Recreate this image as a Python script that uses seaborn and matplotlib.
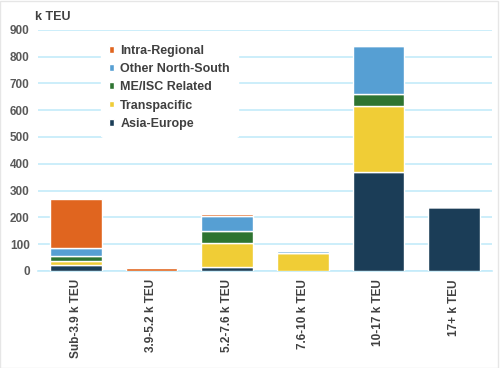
import pandas as pd
import matplotlib.pyplot as plt
import seaborn as sns

# Ship size classes and capacity by trade (k TEU)
categories = ["Sub-3.9 k TEU", "3.9-5.2 k TEU", "5.2-7.6 k TEU",
              "7.6-10 k TEU", "10-17 k TEU", "17+ k TEU"]
asia_europe = [22, 0, 14, 0, 368, 238]
transpacific = [16, 0, 90, 68, 248, 0]
me_isc = [19, 0, 46, 0, 45, 0]
other_north_south = [28, 0, 53, 6, 180, 0]
intra_regional = [183, 10, 9, 0, 0, 0]

trades = ["Asia-Europe", "Transpacific", "ME/ISC Related",
          "Other North-South", "Intra-Regional"]
colors = {"Asia-Europe": "#1b3d57", "Transpacific": "#f0cd36",
          "ME/ISC Related": "#2e7431", "Other North-South": "#569fd3",
          "Intra-Regional": "#e0651f"}

df = pd.DataFrame({"Asia-Europe": asia_europe, "Transpacific": transpacific,
                   "ME/ISC Related": me_isc, "Other North-South": other_north_south,
                   "Intra-Regional": intra_regional}, index=categories)

sns.set_style("white")
plt.rcParams['font.family'] = ['Liberation Sans', 'DejaVu Sans']

fig = plt.figure(figsize=(5.0, 3.68), dpi=100)
ax = fig.add_axes([0.076, 0.264, 0.908, 0.655])

# stack the segments bottom-up, cumulative sums give the bottoms
bottoms = df.cumsum(axis=1) - df
for trade in trades:
    sns.barplot(x=df.index, y=df[trade], bottom=bottoms[trade], color=colors[trade],
                saturation=1, width=0.68, edgecolor="white", linewidth=1.0, ax=ax,
                label=trade, zorder=3)

ax.set_ylim(0, 900)
ax.set_xlim(-0.5, 5.5)
ax.set_yticks(range(0, 901, 100))
ax.yaxis.grid(True, color="#c4ebfa", linewidth=1.2, zorder=0)
ax.set_axisbelow(True)
for s in ["top", "right", "left"]:
    ax.spines[s].set_visible(False)
ax.spines["bottom"].set_color("#c4ebfa")
ax.spines["bottom"].set_linewidth(1.2)
ax.tick_params(axis="both", length=0, pad=6)
ax.set_xlabel("")
ax.set_ylabel("")
plt.setp(ax.get_yticklabels(), fontsize=8.5, fontweight="bold", color="#595959")
plt.setp(ax.get_xticklabels(), fontsize=8.5, fontweight="bold", color="#404040",
         rotation=90)

fig.text(0.07, 0.945, "k TEU", fontsize=9, fontweight="bold", color="#404040")

handles, labels = ax.get_legend_handles_labels()
leg = ax.legend(handles[::-1], labels[::-1], loc="upper left",
                bbox_to_anchor=(0.125, 0.995), frameon=True, framealpha=1,
                edgecolor="white", fontsize=9, handlelength=0.45, handleheight=0.45,
                labelspacing=0.5, handletextpad=0.5, borderpad=0.6)
for t in leg.get_texts():
    t.set_fontweight("bold")
    t.set_color("#404040")

fig.patches.append(plt.Rectangle((0, 0), 0.995, 0.997, transform=fig.transFigure,
                                 fill=False, edgecolor="#e6e6e6", linewidth=1))

fig.savefig("out.png", dpi=100)
